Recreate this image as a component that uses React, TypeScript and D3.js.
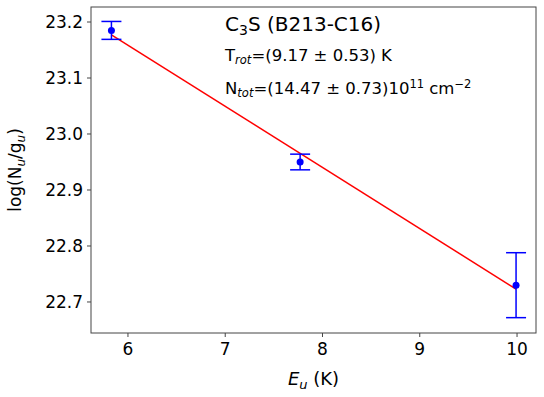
import React from 'react';
import * as d3 from 'd3';

// measured points: upper level energy (K), log(Nu/gu) and its error
const energies = [5.83, 7.77, 9.99];
const logNg = [23.185, 22.95, 22.73];
const logNgErr = [0.016, 0.014, 0.058];

// fitted line end points
const fitX = [5.83, 9.99];
const fitY = [23.177, 22.723];

const xTicks = [6, 7, 8, 9, 10];
const yTicks = [22.7, 22.8, 22.9, 23.0, 23.1, 23.2];

const W = 544;
const H = 397;
const margin = { top: 7, right: 8, bottom: 64, left: 91 };
const FONT = "'DejaVu Sans', sans-serif";

const App = () => {
    const x = d3.scaleLinear()
        .domain([5.62, 10.195])
        .range([margin.left, W - margin.right]);
    const y = d3.scaleLinear()
        .domain([22.6446, 23.2268])
        .range([H - margin.bottom, margin.top]);

    const line = d3.line<number>()
        .x((d, i) => x(fitX[i]))
        .y(d => y(d));

    const x0 = margin.left;
    const x1 = W - margin.right;
    const y0 = H - margin.bottom;
    const y1 = margin.top;
    const blue = '#0000ff';

    return (
        <div style={{ position: 'fixed', left: 0, top: 0 }}>
            <svg width={W} height={H} style={{ display: 'block', background: '#fff' }} fontFamily={FONT}>
                {/* fit */}
                <path d={line(fitY) || ''} fill="none" stroke="#ff0000" strokeWidth={1.5} />

                {/* error bars and points */}
                {energies.map((e, i) => {
                    const cx = x(e);
                    const top = y(logNg[i] + logNgErr[i]);
                    const bot = y(logNg[i] - logNgErr[i]);
                    return (
                        <g key={i} stroke={blue} strokeWidth={1.5}>
                            <line x1={cx} x2={cx} y1={top} y2={bot} />
                            <line x1={cx - 10} x2={cx + 10} y1={top} y2={top} />
                            <line x1={cx - 10} x2={cx + 10} y1={bot} y2={bot} />
                            <circle cx={cx} cy={y(logNg[i])} r={3.5} fill={blue} stroke="none" />
                        </g>
                    );
                })}

                {/* frame */}
                <rect x={x0} y={y1} width={x1 - x0} height={y0 - y1} fill="none" stroke="#444" strokeWidth={1} />

                {/* x axis */}
                {xTicks.map(t => (
                    <g key={t}>
                        <line x1={x(t)} x2={x(t)} y1={y0} y2={y0 + 4} stroke="#444" />
                        <text x={x(t)} y={y0 + 22} fontSize={17} textAnchor="middle" fill="#000">{t}</text>
                    </g>
                ))}
                {/* y axis */}
                {yTicks.map(t => (
                    <g key={t}>
                        <line x1={x0 - 4} x2={x0} y1={y(t)} y2={y(t)} stroke="#444" />
                        <text x={x0 - 8} y={y(t) + 6} fontSize={17} textAnchor="end" fill="#000">{t.toFixed(1)}</text>
                    </g>
                ))}

                {/* axis labels */}
                <text x={(x0 + x1) / 2} y={385} fontSize={18} textAnchor="middle">
                    <tspan fontStyle="italic">E</tspan>
                    <tspan fontStyle="italic" fontSize={13} dy={4}>u</tspan>
                    <tspan dy={-4}>{'\u00a0(K)'}</tspan>
                </text>
                <text transform={`translate(21,${(y0 + y1) / 2}) rotate(-90)`} fontSize={17} textAnchor="middle">
                    <tspan>log(N</tspan>
                    <tspan fontStyle="italic" fontSize={12} dy={4}>u</tspan>
                    <tspan dy={-4}>/g</tspan>
                    <tspan fontStyle="italic" fontSize={12} dy={4}>u</tspan>
                    <tspan dy={-4}>)</tspan>
                </text>

                {/* annotations */}
                <text x={225} y={31} fontSize={20}>
                    <tspan>C</tspan>
                    <tspan fontSize={14} dy={4}>3</tspan>
                    <tspan dy={-4}>S (B213-C16)</tspan>
                </text>
                <text x={225} y={61} fontSize={16.5}>
                    <tspan>T</tspan>
                    <tspan fontStyle="italic" fontSize={11.5} dy={3}>rot</tspan>
                    <tspan dy={-3}>=(9.17 ± 0.53) K</tspan>
                </text>
                <text x={225} y={94} fontSize={16.5}>
                    <tspan>N</tspan>
                    <tspan fontStyle="italic" fontSize={11.5} dy={3}>tot</tspan>
                    <tspan dy={-3}>=(14.47 ± 0.73)10</tspan>
                    <tspan fontSize={11.5} dy={-6}>11</tspan>
                    <tspan dy={6}>{'\u00a0cm'}</tspan>
                    <tspan fontSize={11.5} dy={-6}>−2</tspan>
                </text>
            </svg>
        </div>
    );
};

export default App;
